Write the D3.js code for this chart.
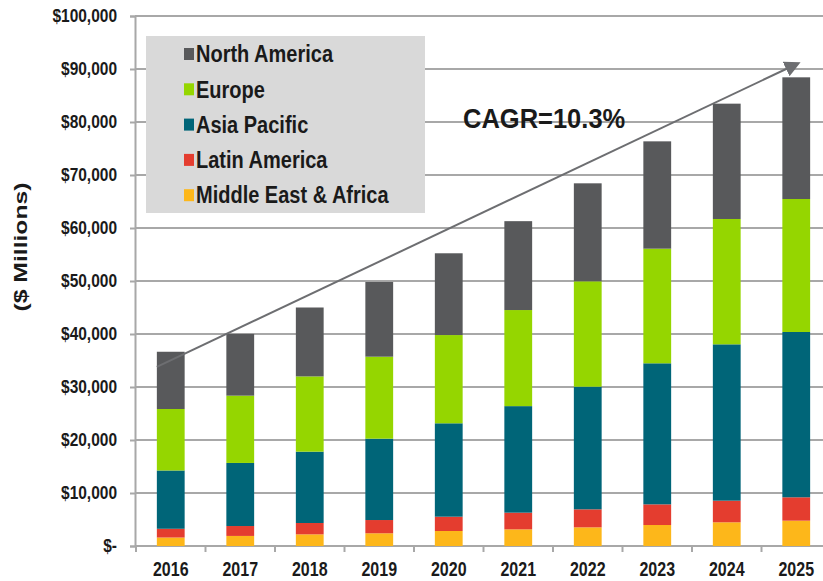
<!DOCTYPE html>
<html>
<head>
<meta charset="utf-8">
<script src="https://cdn.jsdelivr.net/npm/d3@7"></script>
<style>
  body { margin: 0; background: #fff; }
  text { font-family: "Liberation Sans", Arial, sans-serif; font-weight: bold; fill: #1a1a1a; }
</style>
</head>
<body>
<svg width="823" height="581"></svg>
<script>
const years = ["2016", "2017", "2018", "2019", "2020", "2021", "2022", "2023", "2024", "2025"];
const regions = ["Middle East & Africa", "Latin America", "Asia Pacific", "Europe", "North America"];
const legendOrder = ["North America", "Europe", "Asia Pacific", "Latin America", "Middle East & Africa"];
const regionColors = ["#fdb71a", "#e43d2f", "#006578", "#95d600", "#58595b"];

// $ millions
const middleEastAfrica = [1600, 1900, 2200, 2400, 2830, 3140, 3520, 3960, 4470, 4780];
const latinAmerica     = [1650, 1870, 2140, 2500, 2700, 3150, 3400, 3900, 4080, 4410];
const asiaPacific      = [11000, 11900, 13460, 15350, 17620, 20100, 23140, 26610, 29500, 31190];
const europe           = [11600, 12700, 14200, 15470, 16650, 18130, 19880, 21630, 23650, 25090];
const northAmerica     = [10800, 11650, 13000, 14100, 15430, 16770, 18490, 20250, 21760, 22960];

const yTicks = [0, 10000, 20000, 30000, 40000, 50000, 60000, 70000, 80000, 90000, 100000];
const cagrLabel = "CAGR=10.3%";
const cagrStart = { year: "2016", value: 33800 };
const cagrEnd = { year: "2025", value: 90900 };

const seriesValues = [middleEastAfrica, latinAmerica, asiaPacific, europe, northAmerica];
const table = years.map((yr, i) => {
  const row = { year: yr };
  regions.forEach((r, k) => row[r] = seriesValues[k][i]);
  return row;
});

const color = d3.scaleOrdinal().domain(regions).range(regionColors);

const svg = d3.select("svg");
const plotLeft = 135, plotRight = 823, plotTop = 16, plotBottom = 546;

const x = d3.scaleBand()
  .domain(years)
  .range([136, 831])
  .paddingInner(0.6)
  .paddingOuter(0.3);

const y = d3.scaleLinear()
  .domain([0, 100000])
  .range([plotBottom, plotTop]);

// gridlines
svg.append("g")
  .selectAll("line")
  .data(yTicks)
  .join("line")
  .attr("x1", plotLeft)
  .attr("x2", plotRight)
  .attr("y1", d => y(d))
  .attr("y2", d => y(d))
  .attr("stroke", "#a8a8a8")
  .attr("stroke-width", 2);

// y axis
const yAxis = svg.append("g")
  .attr("transform", `translate(${plotLeft},0)`)
  .call(d3.axisLeft(y)
    .tickValues(yTicks)
    .tickSize(5)
    .tickPadding(13)
    .tickFormat(d => d === 0 ? "$-" : "$" + d3.format(",")(d)));
yAxis.select(".domain").attr("stroke", "#a8a8a8").attr("stroke-width", 2);
yAxis.selectAll(".tick line").attr("stroke", "#a8a8a8").attr("stroke-width", 2);
yAxis.selectAll(".tick text")
  .attr("font-size", 15.5)
  .attr("fill", "#1a1a1a")
  .attr("transform", "scale(1,1.18)");

// x axis
const xAxis = svg.append("g")
  .attr("transform", `translate(0,${plotBottom})`)
  .call(d3.axisBottom(x).tickSize(0).tickPadding(13));
xAxis.select(".domain").remove();
xAxis.selectAll(".tick text")
  .attr("font-size", 16)
  .attr("fill", "#1a1a1a")
  .attr("transform", "scale(1,1.25)");
xAxis.append("line")
  .attr("x1", plotLeft)
  .attr("x2", plotRight)
  .attr("stroke", "#a8a8a8")
  .attr("stroke-width", 2);
xAxis.selectAll(".sep")
  .data(years)
  .join("line")
  .attr("class", "sep")
  .attr("x1", d => x(d) - x.step() * x.paddingInner() / 2)
  .attr("x2", d => x(d) - x.step() * x.paddingInner() / 2)
  .attr("y1", 0)
  .attr("y2", 6)
  .attr("stroke", "#a8a8a8")
  .attr("stroke-width", 2);

// stacked bars
const stack = d3.stack().keys(regions);
const series = stack(table);

svg.append("g")
  .selectAll("g")
  .data(series)
  .join("g")
  .attr("fill", d => color(d.key))
  .selectAll("rect")
  .data(d => d)
  .join("rect")
  .attr("x", d => x(d.data.year))
  .attr("y", d => y(d[1]))
  .attr("width", x.bandwidth())
  .attr("height", d => y(d[0]) - y(d[1]));

// y axis title
svg.append("g")
  .attr("transform", "translate(20,247) rotate(-90)")
  .append("text")
  .attr("text-anchor", "middle")
  .attr("dy", "0.35em")
  .attr("font-size", 19)
  .attr("transform", "scale(1.3,1)")
  .text("($ Millions)");

// legend
const legend = svg.append("g");
legend.append("rect")
  .attr("x", 146)
  .attr("y", 36)
  .attr("width", 279)
  .attr("height", 177)
  .attr("fill", "#d9d9d9");

const legendRow = legend.selectAll(".row")
  .data(legendOrder)
  .join("g")
  .attr("class", "row")
  .attr("transform", (d, i) => `translate(184,${54 + i * 35.3})`);
legendRow.append("rect")
  .attr("x", 0)
  .attr("y", -6)
  .attr("width", 10)
  .attr("height", 12)
  .attr("fill", d => color(d));
legendRow.append("text")
  .attr("x", 12)
  .attr("dy", "0.36em")
  .attr("font-size", 20)
  .attr("transform", "scale(1,1.15)")
  .text(d => d);

// CAGR arrow
svg.append("defs").append("marker")
  .attr("id", "arrow")
  .attr("viewBox", "0 0 10 10")
  .attr("refX", 7)
  .attr("refY", 5)
  .attr("markerWidth", 8)
  .attr("markerHeight", 8)
  .attr("orient", "auto")
  .append("path")
  .attr("d", "M0,0 L10,5 L0,10 Z")
  .attr("fill", "#6d6e71");

svg.append("line")
  .attr("x1", x(cagrStart.year))
  .attr("y1", y(cagrStart.value))
  .attr("x2", x(cagrEnd.year) + x.bandwidth() / 2)
  .attr("y2", y(cagrEnd.value))
  .attr("stroke", "#6d6e71")
  .attr("stroke-width", 2)
  .attr("marker-end", "url(#arrow)");

svg.append("g")
  .attr("transform", "translate(463,128)")
  .append("text")
  .attr("font-size", 25.5)
  .attr("transform", "scale(1,1.1)")
  .text(cagrLabel);
</script>
</body>
</html>
